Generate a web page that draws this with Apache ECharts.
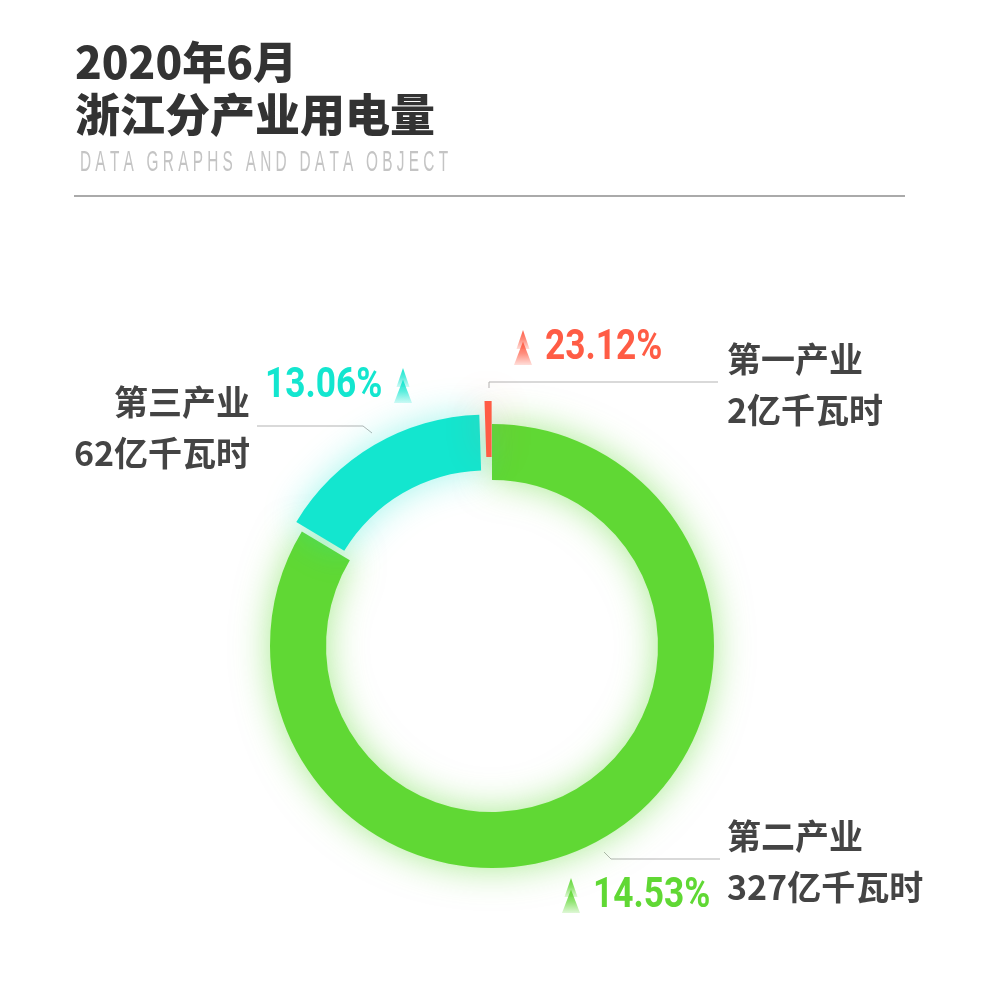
<!DOCTYPE html>
<html>
<head>
<meta charset="utf-8">
<script src="https://cdn.jsdelivr.net/npm/echarts@6/dist/echarts.min.js"></script>
<style>html,body{margin:0;padding:0;background:#fff;}#c{width:981px;height:981px;}</style>
</head>
<body>
<div id="c"></div>
<script>
// ---- data ----
const categories = ['第二产业', '第三产业', '第一产业'];
const values = [327, 62, 2];
const unit = '亿千瓦时';
const growth = [14.53, 13.06, 23.12];
const titleLines = ['2020年6月', '浙江分产业用电量'];
const subtitle = 'DATA GRAPHS AND DATA OBJECT';

// ---- styles ----
const colors = ['#60d834', '#13e6cf', '#ff5c45'];
const colorsRGB = ['96,216,52', '19,230,207', '255,92,69'];
const glow = ['rgba(96,216,52,0.55)', 'rgba(19,230,207,0.4)', 'rgba(255,92,69,0.45)'];
const offsets = [0, 11, 23];
const CENTER = [492, 646];
const RADIUS = [166, 222];
const nameLayout = [
  { x: 727, y: 862, align: 'left', line: [[604, 852], [611, 859], [720, 859]] },
  { x: 250, y: 428, align: 'right', line: [[372, 433], [363, 426], [257, 426]] },
  { x: 727, y: 385, align: 'left', line: [[489, 388], [489, 382], [718, 382]] }
];
const pctLayout = [
  { ax: 562, ay: 878, tx: 593, ty: 896 },
  { ax: 394, ay: 368, tx: 265, ty: 386 },
  { ax: 514, ay: 330, tx: 545, ty: 348 }
];

function arrowParts(rgb, x, y) {
  function tri(tx, ty, hw, by) {
    return {
      type: 'polygon', x: x, y: y, z: 20,
      shape: { points: [[tx, ty], [tx + hw, by], [tx - hw, by]] },
      style: { fill: new echarts.graphic.LinearGradient(0, 0, 0, 1, [
        { offset: 0, color: 'rgba(' + rgb + ',1)' },
        { offset: 0.5, color: 'rgba(' + rgb + ',0.7)' },
        { offset: 1, color: 'rgba(' + rgb + ',0.2)' }
      ]) }
    };
  }
  return [tri(9, 0, 6.5, 19), tri(9, 11.5, 9, 35)];
}

const cjkFont = "'Noto Sans CJK SC','Noto Sans CJK JP',sans-serif";
const total = values.reduce(function (a, b) { return a + b; }, 0);

const series = [];
let acc = 0;
categories.forEach(function (cat, k) {
  const bis = (acc + values[k] / 2) / total * 2 * Math.PI;
  acc += values[k];
  const c = [CENTER[0] + Math.sin(bis) * offsets[k], CENTER[1] - Math.cos(bis) * offsets[k]];
  series.push({
    type: 'pie',
    center: c,
    radius: RADIUS,
    startAngle: 90,
    clockwise: true,
    silent: true,
    animation: false,
    z: 2 + k,
    label: {
      show: true,
      formatter: function (p) { return '{a|' + p.name + '}\n{a|' + p.value + unit + '}'; },
      rich: { a: { fontFamily: cjkFont, fontWeight: 'bold', fontSize: 34, lineHeight: 51, color: '#444' } }
    },
    labelLine: { show: true, lineStyle: { color: '#b3b3b3', width: 1 } },
    labelLayout: function (params) {
      const L = nameLayout[params.dataIndex];
      return { x: L.x, y: L.y, align: L.align, verticalAlign: 'middle', labelLinePoints: L.line };
    },
    data: categories.map(function (c, i) {
      const on = i === k;
      return {
        name: c, value: values[i],
        itemStyle: on ? { color: colors[i], shadowBlur: 36, shadowColor: glow[i] } : { color: 'rgba(0,0,0,0)' },
        label: { show: on },
        labelLine: { show: on }
      };
    })
  });
});

const graphics = [
  { type: 'text', x: 75, y: 62, style: { text: titleLines[0], font: "900 44px " + cjkFont, fill: '#333', verticalAlign: 'middle' } },
  { type: 'text', x: 75, y: 115, style: { text: titleLines[1], font: "900 45px " + cjkFont, fill: '#333', verticalAlign: 'middle' } },
  { type: 'text', x: 80, y: 163, scaleX: 0.53, style: {
      text: subtitle.split(' ').map(function (w) { return w.split('').join(' '); }).join('   '),
      font: "normal 29px 'Liberation Sans',sans-serif", fill: '#c4c4c4', verticalAlign: 'middle' } },
  { type: 'line', shape: { x1: 74, y1: 196, x2: 905, y2: 196 }, style: { stroke: '#aaaaaa', lineWidth: 2 } }
];
growth.forEach(function (g, i) {
  const P = pctLayout[i];
  arrowParts(colorsRGB[i], P.ax, P.ay).forEach(function (e) { graphics.push(e); });
  graphics.push({ type: 'text', x: P.tx, y: P.ty, scaleX: 0.82, z: 20, style: {
    text: g.toFixed(2) + '%', font: "bold 43px Roboto,sans-serif", fill: colors[i], verticalAlign: 'middle' } });
});

const chart = echarts.init(document.getElementById('c'));
chart.setOption({
  backgroundColor: '#fff',
  animation: false,
  graphic: graphics,
  series: series
});
</script>
</body>
</html>
